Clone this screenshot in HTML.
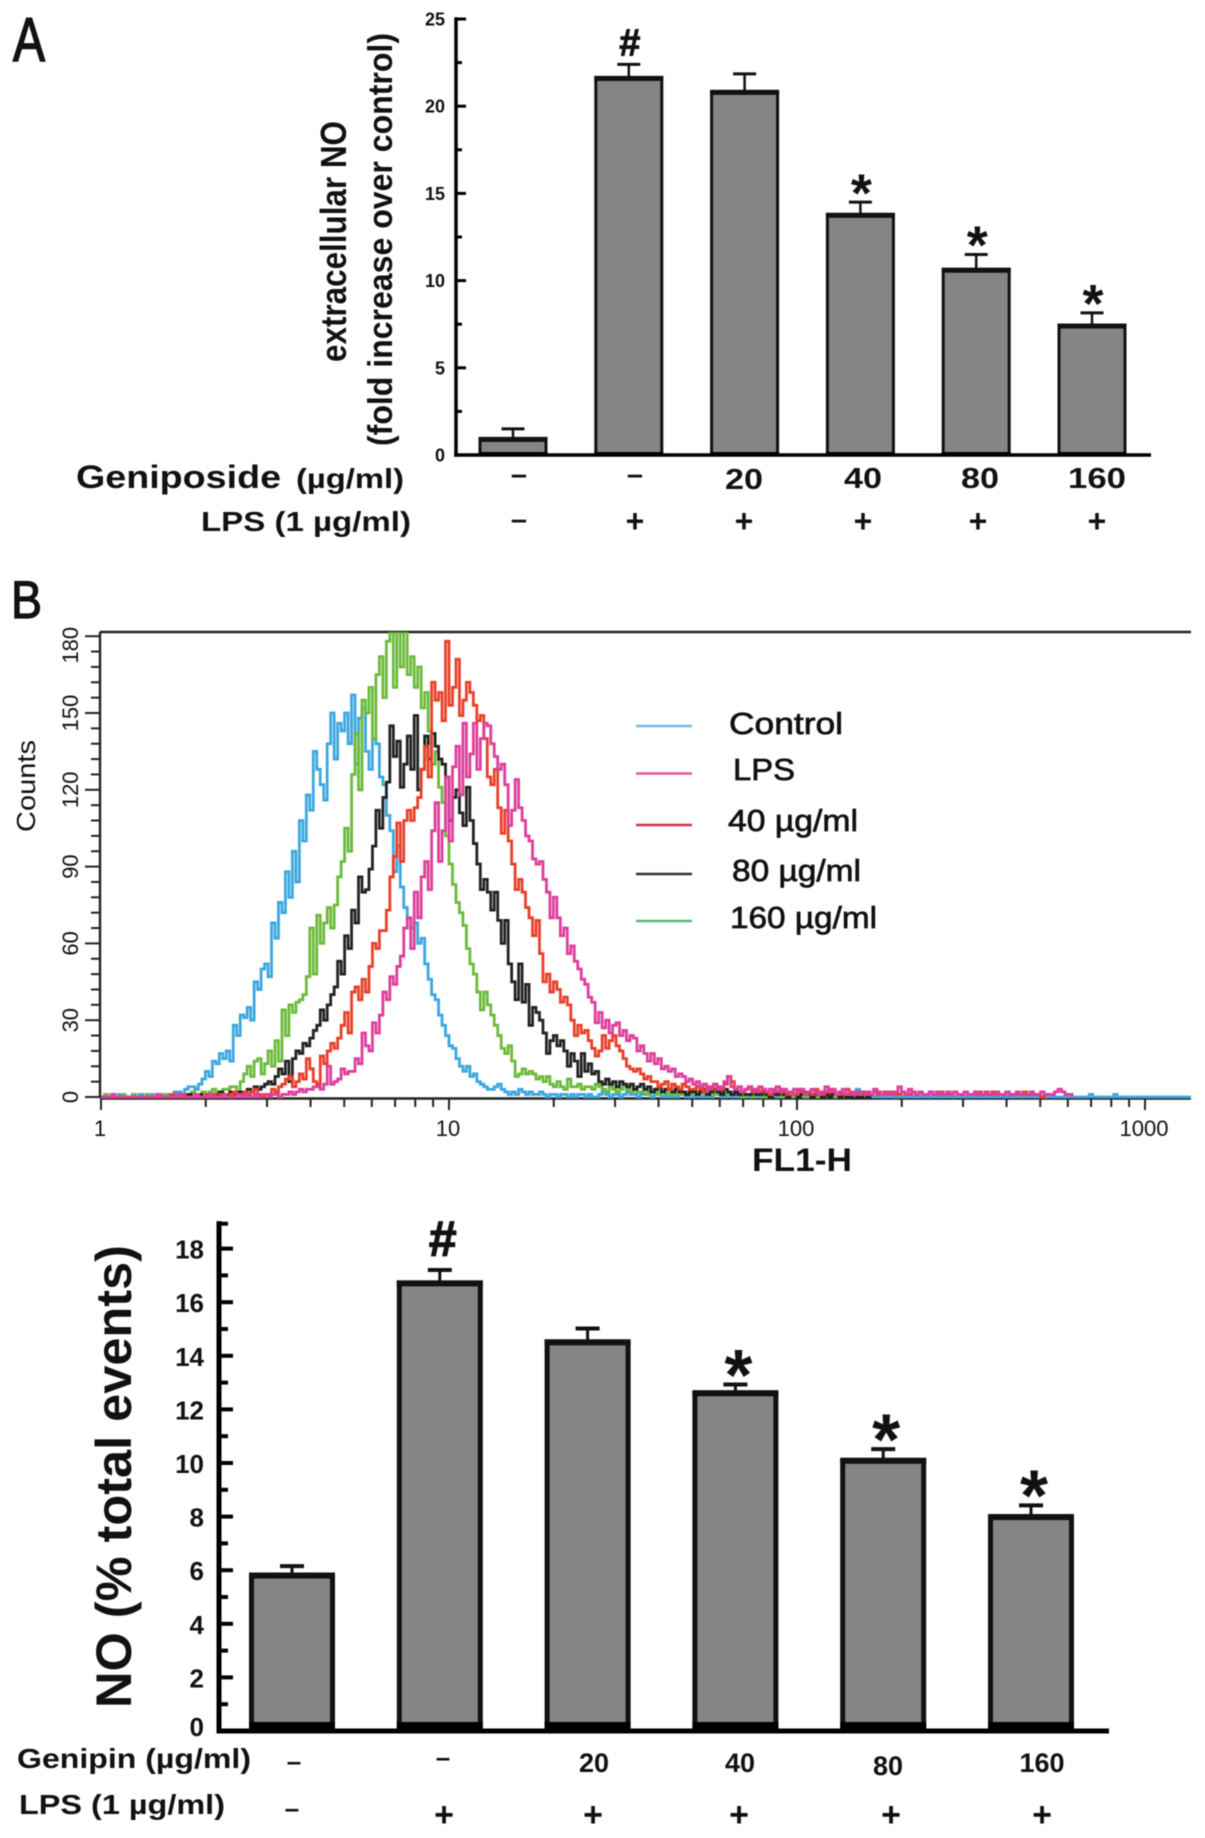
<!DOCTYPE html>
<html lang="en">
<head>
<meta charset="utf-8">
<title>NO production figure</title>
<style>
html,body{margin:0;padding:0;background:#fff;}
#figure{display:block;width:1205px;height:1838px;filter:blur(0.45px);font-family:"Liberation Sans",sans-serif;}
text{font-family:"Liberation Sans",sans-serif;fill:#111;}
.b{font-weight:bold;}
</style>
</head>
<body>
<svg id="figure" xmlns="http://www.w3.org/2000/svg" width="1205" height="1838" viewBox="0 0 1205 1838">
  <defs><clipPath id="hist-clip"><rect x="100" y="632" width="1091" height="468"/></clipPath></defs>
  <rect width="1205" height="1838" fill="#fff"/>

  <text x="13" y="61" font-size="62" textLength="32" lengthAdjust="spacingAndGlyphs" stroke="#111" stroke-width="1.6">A</text>
  <text x="11" y="618" font-size="53" textLength="31" lengthAdjust="spacingAndGlyphs" stroke="#111" stroke-width="1.3">B</text>

  <g id="panel-a"></g>
  <text class="b" transform="translate(346,362) rotate(-90)" font-size="36" textLength="241" lengthAdjust="spacingAndGlyphs">extracellular NO</text>
  <text class="b" transform="translate(392,446) rotate(-90)" font-size="34" textLength="413" lengthAdjust="spacingAndGlyphs">(fold increase over control)</text>

  <text class="b" x="76" y="488" font-size="32" textLength="205" lengthAdjust="spacingAndGlyphs">Geniposide</text>
  <text class="b" x="296" y="488" font-size="28" textLength="108" lengthAdjust="spacingAndGlyphs">(µg/ml)</text>
  <text class="b" x="201" y="531" font-size="28" textLength="210" lengthAdjust="spacingAndGlyphs">LPS (1 µg/ml)</text>
  <g class="b" text-anchor="middle" font-size="29">
    <text x="519" y="484">–</text>
    <text x="635" y="484">–</text>
    <text x="744" y="489" textLength="38" lengthAdjust="spacingAndGlyphs">20</text>
    <text x="863" y="488" textLength="38" lengthAdjust="spacingAndGlyphs">40</text>
    <text x="980" y="488" textLength="38" lengthAdjust="spacingAndGlyphs">80</text>
    <text x="1097" y="488" textLength="58" lengthAdjust="spacingAndGlyphs">160</text>
  </g>
  <g class="b" text-anchor="middle" font-size="32">
    <text x="519" y="529" font-size="29">–</text>
    <text x="635" y="532">+</text>
    <text x="744" y="532">+</text>
    <text x="863" y="532">+</text>
    <text x="978" y="532">+</text>
    <text x="1097" y="532">+</text>
  </g>

  <g id="panel-b"></g>
  <text transform="translate(35,832) rotate(-90)" font-size="26" textLength="92" lengthAdjust="spacingAndGlyphs">Counts</text>
  <text class="b" x="752" y="1171" font-size="32" textLength="100" lengthAdjust="spacingAndGlyphs">FL1-H</text>
  <g>
    <line x1="636" x2="692" y1="726" y2="726" stroke="#6DB8E6" stroke-width="2.4"/>
    <line x1="636" x2="692" y1="773.5" y2="773.5" stroke="#E0559F" stroke-width="2.4"/>
    <line x1="636" x2="692" y1="825" y2="825" stroke="#D8333F" stroke-width="2.4"/>
    <line x1="636" x2="692" y1="874" y2="874" stroke="#333" stroke-width="2.4"/>
    <line x1="636" x2="692" y1="921" y2="921" stroke="#5FB584" stroke-width="2.4"/>
    <text x="729" y="734" font-size="31" textLength="114" lengthAdjust="spacingAndGlyphs" stroke="#111" stroke-width="0.7">Control</text>
    <text x="733" y="780" font-size="31" textLength="62" lengthAdjust="spacingAndGlyphs" stroke="#111" stroke-width="0.7">LPS</text>
    <text x="728" y="831" font-size="31" textLength="130" lengthAdjust="spacingAndGlyphs" stroke="#111" stroke-width="0.7">40 µg/ml</text>
    <text x="732" y="881" font-size="31" textLength="129" lengthAdjust="spacingAndGlyphs" stroke="#111" stroke-width="0.7">80 µg/ml</text>
    <text x="730" y="928" font-size="31" textLength="147" lengthAdjust="spacingAndGlyphs" stroke="#111" stroke-width="0.7">160 µg/ml</text>
  </g>

  <g id="panel-c"></g>
  <text class="b" transform="translate(131,1708) rotate(-90)" font-size="50" textLength="463" lengthAdjust="spacingAndGlyphs">NO (% total events)</text>
  <text class="b" x="17" y="1768" font-size="28" textLength="234" lengthAdjust="spacingAndGlyphs">Genipin (µg/ml)</text>
  <text class="b" x="19" y="1814" font-size="28" textLength="206" lengthAdjust="spacingAndGlyphs">LPS (1 µg/ml)</text>
  <g class="b" text-anchor="middle" font-size="26">
    <text x="294" y="1770">–</text>
    <text x="443" y="1766">–</text>
    <text x="594" y="1772" font-size="27">20</text>
    <text x="740" y="1772" font-size="27">40</text>
    <text x="888" y="1775" font-size="27">80</text>
    <text x="1042" y="1772" font-size="27">160</text>
  </g>
  <g class="b" text-anchor="middle" font-size="34">
    <text x="292" y="1817" font-size="26">–</text>
    <text x="444" y="1826">+</text>
    <text x="593" y="1826">+</text>
    <text x="739" y="1826">+</text>
    <text x="891" y="1826">+</text>
    <text x="1042" y="1826">+</text>
  </g>
</svg>
<script>
const barGroups = ['control', 'lps', 'dose-20', 'dose-40', 'dose-80', 'dose-160'];
const significanceMarks = ['', '#', '', '*', '*', '*'];

const panelAValues = [0.95, 21.65, 20.85, 13.8, 10.65, 7.45];
const panelAErrorTops = [1.5, 22.4, 21.85, 14.5, 11.5, 8.15];
const panelATicks = [0, 5, 10, 15, 20, 25];
const panelAMinorTicks = [2.5, 7.5, 12.5, 17.5, 22.5];

const panelCValues = [5.82, 16.72, 14.52, 12.62, 10.1, 8.0];
const panelCErrorTops = [6.15, 17.2, 15.02, 12.93, 10.52, 8.42];
const panelCTicks = [0, 2, 4, 6, 8, 10, 12, 14, 16, 18];
const panelCMinorTicks = [1, 3, 5, 7, 9, 11, 13, 15, 17];

const histYTicks = [0, 30, 60, 90, 120, 150, 180];
const histYMinorTicks = [6, 12, 18, 24, 36, 42, 48, 54, 66, 72, 78, 84, 96, 102, 108, 114, 126, 132, 138, 144, 156, 162, 168, 174];
const histXTicks = [1, 10, 100, 1000];
const histXMinorTicks = [2, 3, 4, 5, 6, 7, 8, 9, 20, 30, 40, 50, 60, 70, 80, 90, 200, 300, 400, 500, 600, 700, 800, 900];

const controlCounts = [0,0,0,0,0,1,0,0,0,0,0,1,0,1,1,0,1,1,1,1,1,2,2,1,3,4,4,3,5,7,10,8,14,13,17,15,18,14,28,24,32,31,35,30,45,42,50,52,47,68,62,76,72,88,78,96,84,108,100,118,112,135,128,122,116,138,150,132,146,143,150,138,157,130,148,152,135,128,140,138,125,122,110,104,88,98,82,74,70,66,68,60,62,52,46,40,38,32,28,24,20,19,15,12,10,12,8,9,6,5,4,3,3,4,5,3,2,1,2,1,3,2,1,2,1,1,2,1,0,1,1,0,1,1,0,1,0,1,1,0,1,0,0,1,2,1,0,1,1,0,1,2,1,1,0,1,1,2,0,1,1,0,1,0,1,0,1,1,0,1,0,1,0,0,1,0,1,1,0,0,1,0,1,0,0,1,0,0,1,0,1,0,0,1,0,0,1,0,0,1,0,1,0,0,1,0,0,1,0,0,1,0,0,1,0,1,2,3,2,1,0,1,0,0,1,0,1,0,0,1,0,0,1,0,0,0,1,0,0,1,0,0,0,1,0,0,1,0,0,0,1,0,0,0,1,0,0,0,1,0,0,0,0,1,0,0,0,1,0,0,0,0,1,0,0,0,0,0,1,0,0,0,0,0,1,0,0,0,0,0,0,1,0,0,0,0,0,0,0,0,0,0,0,0,0,0,0,0,0,0,0,0,0,0,0,0];
const greenCounts = [0,1,0,0,0,0,1,0,0,1,0,0,0,1,0,0,0,0,1,0,0,1,1,0,1,1,2,1,1,2,1,2,3,2,1,3,3,4,4,2,6,9,12,8,14,15,9,13,18,12,22,14,34,24,36,33,37,38,40,47,66,48,71,60,68,74,66,75,86,92,105,96,126,142,120,155,150,160,140,165,172,156,178,182,160,182,168,182,165,172,160,168,152,158,143,130,135,121,115,102,91,83,76,72,67,58,52,48,41,34,41,36,32,28,24,19,17,20,14,8,9,11,9,10,9,7,8,6,8,5,4,6,4,3,7,4,4,5,3,4,4,3,5,4,3,2,4,3,2,3,5,3,2,3,2,2,3,1,2,2,1,2,3,1,2,1,1,2,1,1,2,1,2,1,1,2,1,1,2,1,1,1,2,1,0,1,1,0,1,1,0,1,0,1,1,0,1,0,0,1,0,1,0,0,1,0,0,1,0,1,0,0,1,0,0,1];
const blackCounts = [0,0,0,0,0,0,0,0,0,0,0,0,0,0,0,0,1,0,0,0,1,0,0,1,0,1,0,1,1,0,1,1,1,1,2,1,1,2,1,2,2,2,3,2,4,3,4,5,6,5,8,11,9,14,6,15,18,17,21,20,23,26,28,34,30,36,40,43,53,48,63,58,73,68,86,80,81,89,98,112,105,117,123,145,133,139,121,130,141,128,149,120,128,141,132,142,137,132,130,125,108,117,120,111,106,121,108,99,91,81,85,80,73,80,69,60,69,52,45,38,52,37,44,28,35,33,30,25,17,22,24,20,22,18,12,17,14,8,17,10,13,9,10,6,5,7,5,6,4,6,5,4,5,3,4,5,3,4,2,3,4,2,3,3,2,3,2,2,1,2,2,1,2,3,1,2,3,2,1,3,2,1,2,1,2,1,1,2,1,1,2,1,0,1,1,2,1,0,1,1,0,1,2,1,0,1,1,0,1,0,1,1,0,1,0,0,1,0,0,1,0,1];
const redCounts = [0,0,0,0,0,0,0,0,0,0,0,0,0,0,0,0,0,0,0,0,1,0,0,1,0,0,0,1,0,0,1,0,1,0,1,1,0,1,2,1,1,2,1,2,3,1,0,1,1,3,2,4,5,7,8,4,6,9,7,15,11,6,5,16,13,18,21,19,23,28,33,25,41,43,38,46,41,51,60,58,65,65,73,86,94,107,92,108,112,108,113,117,128,137,125,162,155,158,147,178,153,160,171,149,155,162,158,153,147,149,140,125,122,128,113,103,112,100,91,81,85,80,74,70,63,69,56,45,48,41,45,42,37,39,36,30,24,28,25,26,22,19,16,18,24,19,22,24,20,18,15,12,11,10,11,9,7,8,6,6,4,5,6,3,5,4,3,5,4,3,3,4,3,2,4,3,5,4,3,5,8,6,3,4,2,3,4,2,3,2,3,2,1,3,2,3,2,1,2,1,3,2,1,2,1,3,2,1,2,3,2,1,2,1,3,1,2,1,1,2,1,1,2,1,1,2,1,2,1,1,2,1,1,2,1,2,1,1,2,1,1,2,1,1,1,2,1,1,2,1,1,1,2,1,1,1,2,1,1,1,2,1,1,1,1,2,1,1,1,1,0,1];
const pinkCounts = [0,0,0,1,0,0,0,0,0,0,0,0,0,0,0,0,1,0,0,0,0,0,1,0,0,0,0,1,0,0,0,1,0,0,0,1,0,0,0,1,0,1,0,0,1,0,1,1,0,1,1,0,1,1,2,1,2,3,2,3,3,4,4,3,5,12,5,6,7,11,9,10,10,15,13,25,20,18,29,25,32,41,38,47,44,51,55,66,70,58,80,70,86,92,81,104,115,92,104,125,100,129,137,118,146,125,134,146,128,140,146,145,138,133,128,130,122,106,112,124,113,108,102,100,93,91,92,85,80,70,78,70,63,66,56,59,53,50,46,44,39,37,29,33,27,30,25,28,29,24,26,22,24,23,18,20,17,14,17,13,15,11,12,10,11,8,9,8,6,7,5,6,4,5,3,4,5,3,4,6,8,4,3,4,2,3,4,3,2,4,3,2,3,2,4,2,3,2,1,3,2,3,1,2,3,2,1,2,4,2,3,1,2,3,1,2,1,2,1,1,2,1,3,2,1,1,2,1,2,4,2,1,3,2,1,2,1,1,2,1,2,1,1,2,1,2,1,1,2,1,1,2,1,1,2,1,1,2,1,1,2,1,1,2,1,1,1,2,1,1,2,1,1,1,2,3,2,1,1,0];

const histSeries = [
  { name: 'control', color: '#3BA7DF', counts: controlCounts },
  { name: 'dose-160', color: '#6CBB3C', counts: greenCounts },
  { name: 'dose-80', color: '#222222', counts: blackCounts },
  { name: 'dose-40', color: '#E8402A', counts: redCounts },
  { name: 'lps', color: '#DD3F9B', counts: pinkCounts }
];

const NS = 'http://www.w3.org/2000/svg';
function make(parent, tag, attrs, content) {
  const el = document.createElementNS(NS, tag);
  for (const k in attrs) el.setAttribute(k, attrs[k]);
  if (content !== undefined) el.textContent = content;
  parent.appendChild(el);
  return el;
}
function nameIt(el, label) {
  
  
  return el;
}

function drawBarPanel(root, cfg) {
  const y = v => cfg.y0 - v * cfg.unit;
  const x = i => cfg.x0 + cfg.step * i;
  const half = cfg.barWidth / 2;
  const top = y(cfg.axisTop);

  cfg.values.forEach((v, i) => {
    const cx = x(i);
    const e = y(cfg.errors[i]);
    nameIt(make(root, 'line', { x1: cx, x2: cx, y1: y(v), y2: e, stroke: '#111', 'stroke-width': cfg.errStroke }), 'error-stem-' + barGroups[i]);
    nameIt(make(root, 'line', { x1: cx - cfg.capHalf, x2: cx + cfg.capHalf, y1: e, y2: e, stroke: '#111', 'stroke-width': cfg.capStroke }), 'error-cap-' + barGroups[i]);
    nameIt(make(root, 'rect', { x: cx - half, y: y(v), width: cfg.barWidth, height: cfg.y0 - y(v), fill: '#858585', stroke: '#111', 'stroke-width': cfg.barStroke }), 'bar-' + barGroups[i]);
    nameIt(make(root, 'rect', { x: cx - half - cfg.barStroke / 2, y: y(v) - cfg.barStroke / 2, width: cfg.barWidth + cfg.barStroke, height: cfg.topBand, fill: '#111' }), 'bar-top-' + barGroups[i]);
    nameIt(make(root, 'rect', { x: cx - half - cfg.barStroke / 2, y: cfg.y0 - cfg.baseBand, width: cfg.barWidth + cfg.barStroke, height: cfg.baseBand, fill: '#000' }), 'bar-base-' + barGroups[i]);
    const mark = significanceMarks[i];
    if (mark === '#') {
      nameIt(make(root, 'text', { x: cx + cfg.markDx, y: e + cfg.hashDy, 'font-size': cfg.hashSize, 'font-weight': 'bold', 'text-anchor': 'middle', stroke: '#111', 'stroke-width': cfg.hashStroke }, mark), 'significance-hash-' + barGroups[i]);
    } else if (mark === '*') {
      nameIt(make(root, 'text', { x: cx + cfg.markDx, y: e + cfg.starDy, 'font-size': cfg.starSize, 'font-weight': 'bold', 'text-anchor': 'middle' }, mark), 'significance-star-' + barGroups[i]);
    }
  });

  nameIt(make(root, 'line', { x1: cfg.axisX, x2: cfg.axisX, y1: top - cfg.axisStroke / 2, y2: cfg.y0 + cfg.axisStroke / 2, stroke: '#000', 'stroke-width': cfg.axisStroke }), 'y-axis');
  nameIt(make(root, 'line', { x1: cfg.axisX - cfg.axisStroke / 2, x2: cfg.axisEnd, y1: cfg.y0, y2: cfg.y0, stroke: '#000', 'stroke-width': cfg.axisStroke }), 'x-axis');
  nameIt(make(root, 'line', { x1: cfg.axisX, x2: cfg.axisX + cfg.minorLen, y1: top, y2: top, stroke: '#000', 'stroke-width': cfg.tickStroke }), 'y-axis-top-tick');
  cfg.ticks.forEach(t => {
    const yy = y(t);
    if (t !== 0) nameIt(make(root, 'line', { x1: cfg.axisX, x2: cfg.axisX + cfg.majorLen, y1: yy, y2: yy, stroke: '#000', 'stroke-width': cfg.tickStroke }), 'y-tick-' + t);
    nameIt(make(root, 'text', { x: cfg.labelX, y: yy + cfg.labelDy - (t === 0 ? cfg.zeroLift : 0), 'font-size': cfg.labelSize, 'font-weight': 'bold', 'text-anchor': 'end' }, String(t)), 'y-tick-label-' + t);
  });
  cfg.minor.forEach(t => {
    const yy = y(t);
    nameIt(make(root, 'line', { x1: cfg.axisX, x2: cfg.axisX + cfg.minorLen, y1: yy, y2: yy, stroke: '#000', 'stroke-width': cfg.tickStroke }), 'y-minor-tick');
  });
}

drawBarPanel(document.getElementById('panel-a'), {
  values: panelAValues, errors: panelAErrorTops, ticks: panelATicks, minor: panelAMinorTicks,
  y0: 455, unit: 17.44, x0: 513, step: 115.8, barWidth: 66, barStroke: 3, topBand: 5, baseBand: 3,
  axisX: 456, axisEnd: 1151, axisStroke: 3.5, axisTop: 25, majorLen: 10, minorLen: 6, tickStroke: 3,
  labelX: 445, labelDy: 6.5, labelSize: 18, zeroLift: 0,
  capHalf: 11.5, capStroke: 3, errStroke: 2.5, markDx: 1,
  hashDy: -9, hashSize: 38, hashStroke: 0.9, starDy: 9.3, starSize: 54
});

drawBarPanel(document.getElementById('panel-c'), {
  values: panelCValues, errors: panelCErrorTops, ticks: panelCTicks, minor: panelCMinorTicks,
  y0: 1731, unit: 26.8, x0: 292, step: 147.8, barWidth: 81, barStroke: 5, topBand: 6, baseBand: 9,
  axisX: 219, axisEnd: 1109, axisStroke: 5, axisTop: 18.93, majorLen: 14, minorLen: 9, tickStroke: 4,
  labelX: 204, labelDy: 10, labelSize: 26, zeroLift: 5,
  capHalf: 12, capStroke: 4, errStroke: 3, markDx: 3,
  hashDy: -14, hashSize: 50, hashStroke: 1.2, starDy: 15.4, starSize: 72
});

const histRoot = document.getElementById('panel-b');
const histY = c => 1097 - 2.56 * c;
const histXValue = v => 101 + 348 * Math.log10(v);
const histXBin = b => 101 + 3.48 * b;

nameIt(make(histRoot, 'line', { x1: 100, x2: 1191, y1: 632, y2: 632, stroke: '#222', 'stroke-width': 2.6 }), 'histogram-top-border');
nameIt(make(histRoot, 'line', { x1: 100, x2: 100, y1: 632, y2: 1098, stroke: '#222', 'stroke-width': 2.4 }), 'histogram-y-axis');
nameIt(make(histRoot, 'line', { x1: 100, x2: 1191, y1: 1098.5, y2: 1098.5, stroke: '#222', 'stroke-width': 2.6 }), 'histogram-x-axis');

histYTicks.forEach(t => {
  nameIt(make(histRoot, 'line', { x1: 85, x2: 100, y1: histY(t), y2: histY(t), stroke: '#222', 'stroke-width': 2 }), 'histogram-y-tick-' + t);
  const cy = t === 180 ? histY(t) + 9 : histY(t);
  nameIt(make(histRoot, 'text', { transform: 'translate(78,' + cy + ') rotate(-90)', 'font-size': 22, 'text-anchor': 'middle' }, String(t)), 'histogram-y-label-' + t);
});
histYMinorTicks.forEach(t => {
  nameIt(make(histRoot, 'line', { x1: 91, x2: 100, y1: histY(t), y2: histY(t), stroke: '#222', 'stroke-width': 2 }), 'histogram-y-minor-tick');
});
histXTicks.forEach(t => {
  const x = histXValue(t);
  nameIt(make(histRoot, 'line', { x1: x, x2: x, y1: 1098, y2: 1110, stroke: '#222', 'stroke-width': 2 }), 'histogram-x-tick-' + t);
  nameIt(make(histRoot, 'text', { x: x - 1, y: 1136, 'font-size': 22, 'text-anchor': 'middle' }, String(t)), 'histogram-x-label-' + t);
});
histXMinorTicks.forEach(t => {
  const x = histXValue(t);
  nameIt(make(histRoot, 'line', { x1: x, x2: x, y1: 1098, y2: 1107, stroke: '#222', 'stroke-width': 2 }), 'histogram-x-minor-tick');
});

const seriesGroup = make(histRoot, 'g', { 'clip-path': 'url(#hist-clip)' });
nameIt(seriesGroup, 'histogram-series');
histSeries.forEach(s => {
  let d = 'M' + histXBin(0) + ' ' + histY(s.counts[0]);
  s.counts.forEach((c, i) => {
    if (i === 0) return;
    d += 'H' + histXBin(i).toFixed(2) + 'V' + histY(c).toFixed(2);
  });
  nameIt(make(seriesGroup, 'path', { d: d, fill: 'none', stroke: s.color, 'stroke-width': 2.8, 'stroke-linejoin': 'miter' }), 'histogram-line-' + s.name);
});
</script>
</body>
</html>
